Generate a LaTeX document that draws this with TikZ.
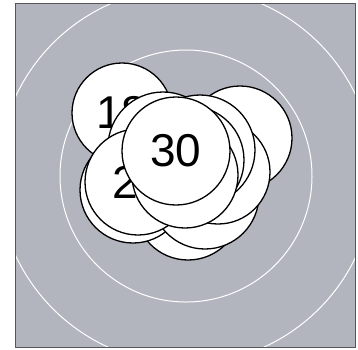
\documentclass[tikz,border=0pt]{standalone}
\usepackage{fontspec}
\setmainfont{Liberation Sans}
\definecolor{platebg}{RGB}{178,181,190}
\definecolor{rim}{RGB}{85,85,90}

\begin{document}
\begin{tikzpicture}[
  x=1pt,y=-1pt,
  line cap=round,
  line join=round,
  ring/.style={draw=white,line width=1pt},
  rimline/.style={draw=rim,line width=0.9pt},
  disk/.style={circle,draw=black,fill=white,line width=1.3pt,inner sep=0pt,
    font=\fontsize{46}{46}\selectfont}
]
  \useasboundingbox (0,0) rectangle (358,349);

  % Plate and rings
  \fill[platebg] (15,3) rectangle (355,347);
  \begin{scope}
    \clip (15,3) rectangle (355,347);
    \draw[ring] (186,176) circle[radius=126];
    \draw[ring] (186,176) circle[radius=188];
  \end{scope}
  \draw[rimline] (15,3) rectangle (355,347);

  % Disks, lowest first
  \node[disk,minimum size=104] (dright) at (240,138) {};
  \node[disk,minimum size=100] (d18)    at (122,113) {18};
  \node[disk,minimum size=110] (dtop)   at (163,147) {};
  \node[disk,minimum size=106] (dlowa)  at (188,207) {};
  \node[disk,minimum size=106] (dlowb)  at (133,190) {};
  \node[disk,minimum size=108] (dlowc)  at (205,195) {};
  \node[disk,minimum size=104] (dmida)  at (218,172) {};
  \node[disk,minimum size=110] (dmidb)  at (200,150) {};
  \node[disk,minimum size=108] (dmidc)  at (190,160) {};
  \node[disk,minimum size=106] (d24)    at (138,182) {24};
  \node[disk,minimum size=106] (dmidd)  at (185,175) {};
  \node[disk,minimum size=108] (d30)    at (176,151) {30};
\end{tikzpicture}
\end{document}
